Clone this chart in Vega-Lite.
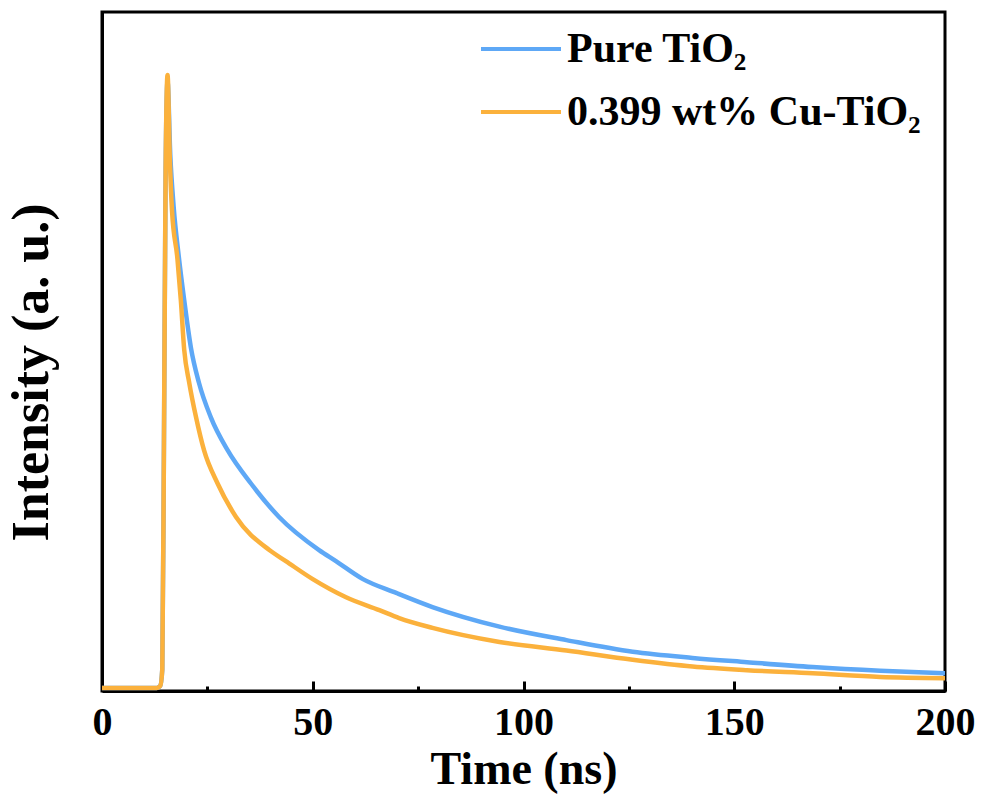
{
  "$schema": "https://vega.github.io/schema/vega-lite/v6.json",
  "autosize": "none",
  "width": 843,
  "height": 679,
  "padding": {"left": 102, "top": 12, "right": 41, "bottom": 118},
  "background": "white",
  "config": {
    "view": {"stroke": "black", "strokeWidth": 3},
    "font": "Liberation Serif",
    "axis": {"domainColor": "black", "domainWidth": 3, "grid": false, "tickColor": "black", "tickWidth": 3,
             "labelFont": "Liberation Serif", "labelFontWeight": "bold", "labelColor": "black",
             "titleFont": "Liberation Serif", "titleFontWeight": "bold", "titleColor": "black"},
    "legend": {"labelFont": "Liberation Serif", "labelFontWeight": "bold", "labelColor": "black"}
  },
  "data": {"values": [
    {"t": 0, "v": 0, "s": "Pure TiO₂"},
    {"t": 13, "v": 0, "s": "Pure TiO₂"},
    {"t": 13.8, "v": 0.003, "s": "Pure TiO₂"},
    {"t": 14.3, "v": 0.03, "s": "Pure TiO₂"},
    {"t": 14.7, "v": 0.4, "s": "Pure TiO₂"},
    {"t": 15.1, "v": 0.85, "s": "Pure TiO₂"},
    {"t": 15.55, "v": 0.99, "s": "Pure TiO₂"},
    {"t": 16.2, "v": 0.87, "s": "Pure TiO₂"},
    {"t": 17.0, "v": 0.785, "s": "Pure TiO₂"},
    {"t": 18.2, "v": 0.705, "s": "Pure TiO₂"},
    {"t": 19.5, "v": 0.633, "s": "Pure TiO₂"},
    {"t": 21.1, "v": 0.555, "s": "Pure TiO₂"},
    {"t": 23.0, "v": 0.498, "s": "Pure TiO₂"},
    {"t": 25.8, "v": 0.442, "s": "Pure TiO₂"},
    {"t": 29.8, "v": 0.388, "s": "Pure TiO₂"},
    {"t": 35.3, "v": 0.334, "s": "Pure TiO₂"},
    {"t": 42.0, "v": 0.279, "s": "Pure TiO₂"},
    {"t": 51.5, "v": 0.225, "s": "Pure TiO₂"},
    {"t": 55.5, "v": 0.207, "s": "Pure TiO₂"},
    {"t": 61.8, "v": 0.178, "s": "Pure TiO₂"},
    {"t": 69.8, "v": 0.155, "s": "Pure TiO₂"},
    {"t": 78.4, "v": 0.132, "s": "Pure TiO₂"},
    {"t": 94.3, "v": 0.1, "s": "Pure TiO₂"},
    {"t": 110.2, "v": 0.078, "s": "Pure TiO₂"},
    {"t": 125.9, "v": 0.059, "s": "Pure TiO₂"},
    {"t": 140.1, "v": 0.049, "s": "Pure TiO₂"},
    {"t": 153, "v": 0.042, "s": "Pure TiO₂"},
    {"t": 168.6, "v": 0.034, "s": "Pure TiO₂"},
    {"t": 184.6, "v": 0.028, "s": "Pure TiO₂"},
    {"t": 200, "v": 0.024, "s": "Pure TiO₂"},
    {"t": 0, "v": 0, "s": "0.399 wt% Cu-TiO₂"},
    {"t": 13, "v": 0, "s": "0.399 wt% Cu-TiO₂"},
    {"t": 13.8, "v": 0.003, "s": "0.399 wt% Cu-TiO₂"},
    {"t": 14.3, "v": 0.03, "s": "0.399 wt% Cu-TiO₂"},
    {"t": 14.7, "v": 0.4, "s": "0.399 wt% Cu-TiO₂"},
    {"t": 15.1, "v": 0.85, "s": "0.399 wt% Cu-TiO₂"},
    {"t": 15.55, "v": 1.0, "s": "0.399 wt% Cu-TiO₂"},
    {"t": 16.1, "v": 0.861, "s": "0.399 wt% Cu-TiO₂"},
    {"t": 16.6, "v": 0.78, "s": "0.399 wt% Cu-TiO₂"},
    {"t": 17.9, "v": 0.7, "s": "0.399 wt% Cu-TiO₂"},
    {"t": 18.7, "v": 0.633, "s": "0.399 wt% Cu-TiO₂"},
    {"t": 19.5, "v": 0.552, "s": "0.399 wt% Cu-TiO₂"},
    {"t": 20.7, "v": 0.498, "s": "0.399 wt% Cu-TiO₂"},
    {"t": 22.3, "v": 0.442, "s": "0.399 wt% Cu-TiO₂"},
    {"t": 24.2, "v": 0.388, "s": "0.399 wt% Cu-TiO₂"},
    {"t": 27.4, "v": 0.334, "s": "0.399 wt% Cu-TiO₂"},
    {"t": 31.8, "v": 0.279, "s": "0.399 wt% Cu-TiO₂"},
    {"t": 39.7, "v": 0.225, "s": "0.399 wt% Cu-TiO₂"},
    {"t": 43.6, "v": 0.207, "s": "0.399 wt% Cu-TiO₂"},
    {"t": 49.9, "v": 0.178, "s": "0.399 wt% Cu-TiO₂"},
    {"t": 57.9, "v": 0.148, "s": "0.399 wt% Cu-TiO₂"},
    {"t": 65.8, "v": 0.127, "s": "0.399 wt% Cu-TiO₂"},
    {"t": 70.5, "v": 0.114, "s": "0.399 wt% Cu-TiO₂"},
    {"t": 78.4, "v": 0.098, "s": "0.399 wt% Cu-TiO₂"},
    {"t": 94.3, "v": 0.075, "s": "0.399 wt% Cu-TiO₂"},
    {"t": 110.2, "v": 0.061, "s": "0.399 wt% Cu-TiO₂"},
    {"t": 125.9, "v": 0.046, "s": "0.399 wt% Cu-TiO₂"},
    {"t": 140.1, "v": 0.035, "s": "0.399 wt% Cu-TiO₂"},
    {"t": 153, "v": 0.029, "s": "0.399 wt% Cu-TiO₂"},
    {"t": 168.6, "v": 0.024, "s": "0.399 wt% Cu-TiO₂"},
    {"t": 184.6, "v": 0.018, "s": "0.399 wt% Cu-TiO₂"},
    {"t": 200, "v": 0.016, "s": "0.399 wt% Cu-TiO₂"}
  ]},
  "encoding": {
    "x": {"field": "t", "type": "quantitative",
          "scale": {"domain": [0, 200], "nice": false, "zero": false},
          "axis": {"title": "Time (ns)", "values": [0, 25, 50, 75, 100, 125, 150, 175, 200],
                   "labelExpr": "datum.value % 50 === 0 ? datum.label : ''",
                   "tickSize": {"condition": {"test": "datum.value % 50 === 0", "value": -10}, "value": -5},
                   "labelFontSize": 40, "labelPadding": 21, "titleFontSize": 46, "titlePadding": 0, "labelFlush": false, "labelOverlap": false}},
    "y": {"field": "v", "type": "quantitative",
          "scale": {"domain": [-0.005, 1.103], "nice": false, "zero": false},
          "axis": {"title": "Intensity (a. u.)", "ticks": false, "labels": false, "titleFontSize": 52, "titlePadding": 44, "titleY": 360}},
    "color": {"field": "s", "type": "nominal",
              "scale": {"domain": ["Pure TiO₂", "0.399 wt% Cu-TiO₂"], "range": ["#5ea8f6", "#fbb13c"]},
              "legend": {"title": null, "orient": "none", "legendX": 377, "legendY": -5, "symbolType": "stroke", "symbolSize": 6400,
                         "symbolStrokeWidth": 4, "labelFontSize": 42, "labelLimit": 600, "rowPadding": 0, "labelOffset": 4}}
  },
  "layer": [
    {"transform": [{"filter": "datum.s === 'Pure TiO₂'"}], "mark": {"type": "line", "strokeWidth": 4.5, "interpolate": "monotone"}},
    {"transform": [{"filter": "datum.s !== 'Pure TiO₂'"}], "mark": {"type": "line", "strokeWidth": 4.5, "interpolate": "monotone"}}
  ]
}
